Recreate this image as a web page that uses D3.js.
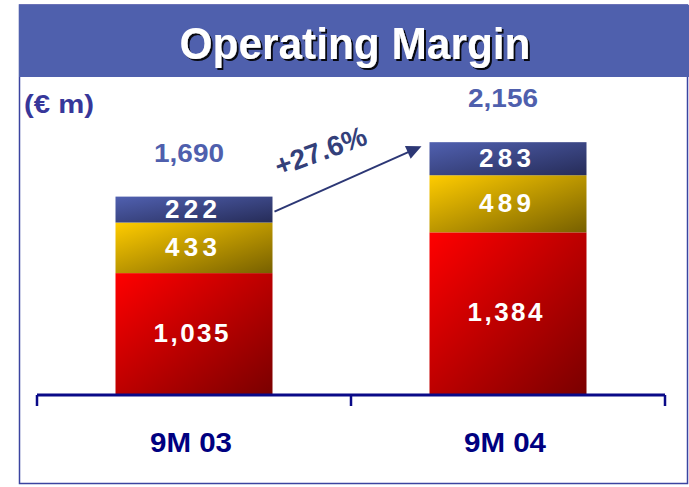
<!DOCTYPE html>
<html><head><meta charset="utf-8">
<script src="https://cdn.jsdelivr.net/npm/d3@7"></script>
<style>body{margin:0;background:#fff;}svg{display:block;font-family:Arial,"Liberation Sans",sans-serif;}</style>
</head><body>
<svg id="c" width="689" height="487"></svg>
<script>
const categories = ["9M 03", "9M 04"];
const segments = ["red", "gold", "blue"];
const redValues = [1035, 1384];
const goldValues = [433, 489];
const blueValues = [222, 283];
const totals = [1690, 2156];
const totalLabels = ["1,690", "2,156"];
const segLabels = [["1,035", "433", "222"], ["1,384", "489", "283"]];
const growthLabel = "+27.6%";

const svg = d3.select("#c");
const defs = svg.append("defs");
function grad(id, c1, c2) {
  const g = defs.append("linearGradient").attr("id", id)
    .attr("x1", "0").attr("y1", "0").attr("x2", "1").attr("y2", "1");
  g.append("stop").attr("offset", "0%").attr("stop-color", c1);
  g.append("stop").attr("offset", "100%").attr("stop-color", c2);
}
grad("g-red", "#ff0000", "#7a0000");
grad("g-gold", "#ffcc00", "#776000");
grad("g-blue", "#5060b0", "#262c58");
const shadow = defs.append("filter").attr("id", "sh").attr("x", "-10%").attr("y", "-10%").attr("width", "130%").attr("height", "140%");
shadow.append("feDropShadow").attr("dx", 2).attr("dy", 2).attr("stdDeviation", 0.6).attr("flood-color", "#000").attr("flood-opacity", 0.9);

// frame
svg.append("rect").attr("x", 19.5).attr("y", 5).attr("width", 668).attr("height", 478.5)
  .attr("fill", "#fff").attr("stroke", "#3b44a0").attr("stroke-width", 1.5);
svg.append("rect").attr("x", 19).attr("y", 5).attr("width", 670).attr("height", 72).attr("fill", "#4f60ad");
svg.append("text").attr("x", 355).attr("y", 59).attr("text-anchor", "middle")
  .attr("font-size", 45).attr("font-weight", "bold").attr("fill", "#fff").attr("filter", "url(#sh)")
  .attr("textLength", 351).attr("lengthAdjust", "spacingAndGlyphs")
  .text("Operating Margin");

svg.append("text").attr("x", 24).attr("y", 113).attr("font-size", 26).attr("font-weight", "bold")
  .attr("textLength", 70).attr("lengthAdjust", "spacingAndGlyphs")
  .attr("fill", "#37379a").text("(€ m)");

const x = d3.scaleBand().domain(categories).range([37, 665]).paddingInner(0.5).paddingOuter(0.25);
const y = d3.scaleLinear().domain([0, 2500]).range([394, 102]);

const data = categories.map((c, i) => ({cat: c, red: redValues[i], gold: goldValues[i], blue: blueValues[i]}));
const stack = d3.stack().keys(segments)(data);

const g = svg.append("g");
stack.forEach((layer) => {
  layer.forEach((d, i) => {
    g.append("rect").attr("x", x(categories[i])).attr("width", x.bandwidth())
      .attr("y", y(d[1])).attr("height", y(d[0]) - y(d[1]))
      .attr("fill", `url(#g-${layer.key})`);
    const lbl = segLabels[i][layer.index];
    g.append("text").attr("x", x(categories[i]) + x.bandwidth() / 2 - 3)
      .attr("y", (y(d[0]) + y(d[1])) / 2 + 8)
      .attr("text-anchor", "middle").attr("font-size", 26).attr("font-weight", "bold")
      .attr("textLength", lbl.length > 3 ? 75 : 52).attr("lengthAdjust", "spacing")
      .attr("fill", "#fff").text(lbl);
  });
});

totals.forEach((t, i) => {
  svg.append("text").attr("x", x(categories[i]) + x.bandwidth() / 2 - 5).attr("y", y(t) - 35)
    .attr("text-anchor", "middle").attr("font-size", 26).attr("font-weight", "bold")
    .attr("textLength", 70).attr("lengthAdjust", "spacingAndGlyphs")
    .attr("fill", "#4f5fad").text(totalLabels[i]);
});

// axis
const axisY = 395;
const tickXs = [x.range()[0], (x.range()[0] + x.range()[1]) / 2, x.range()[1]];
svg.append("line").attr("x1", tickXs[0]).attr("x2", tickXs[2]).attr("y1", axisY).attr("y2", axisY)
  .attr("stroke", "#0a0a88").attr("stroke-width", 3);
tickXs.forEach(tx => svg.append("line").attr("x1", tx).attr("x2", tx).attr("y1", axisY).attr("y2", axisY + 11)
  .attr("stroke", "#0a0a88").attr("stroke-width", 2.5));
categories.forEach(c => {
  svg.append("text").attr("x", x(c) + x.bandwidth() / 2 - 3).attr("y", 452).attr("text-anchor", "middle")
    .attr("font-size", 27.5).attr("font-weight", "bold").attr("fill", "#000080")
    .attr("textLength", 82).attr("lengthAdjust", "spacingAndGlyphs")
    .text(c);
});

// growth arrow
const x0 = x(categories[0]) + x.bandwidth() + 2, y0 = y(totals[0]) + 15;
const x1 = x(categories[1]) - 8, y1 = y(totals[1]) + 4;
const ang = Math.atan2(y1 - y0, x1 - x0);
svg.append("line").attr("x1", x0).attr("y1", y0).attr("x2", x1 - 12 * Math.cos(ang)).attr("y2", y1 - 12 * Math.sin(ang))
  .attr("stroke", "#2c3775").attr("stroke-width", 2);
const ah = 15, aw = 7;
const bx = x1 - ah * Math.cos(ang), by = y1 - ah * Math.sin(ang);
svg.append("path").attr("d", `M${x1},${y1}L${bx - aw * Math.sin(ang)},${by + aw * Math.cos(ang)}L${bx + aw * Math.sin(ang)},${by - aw * Math.cos(ang)}Z`)
  .attr("fill", "#2c3775");
svg.append("text").attr("transform", `translate(324,160) rotate(-20)`).attr("text-anchor", "middle")
  .attr("font-size", 28).attr("font-weight", "bold").attr("fill", "#33407a").text(growthLabel);
</script>
</body></html>
